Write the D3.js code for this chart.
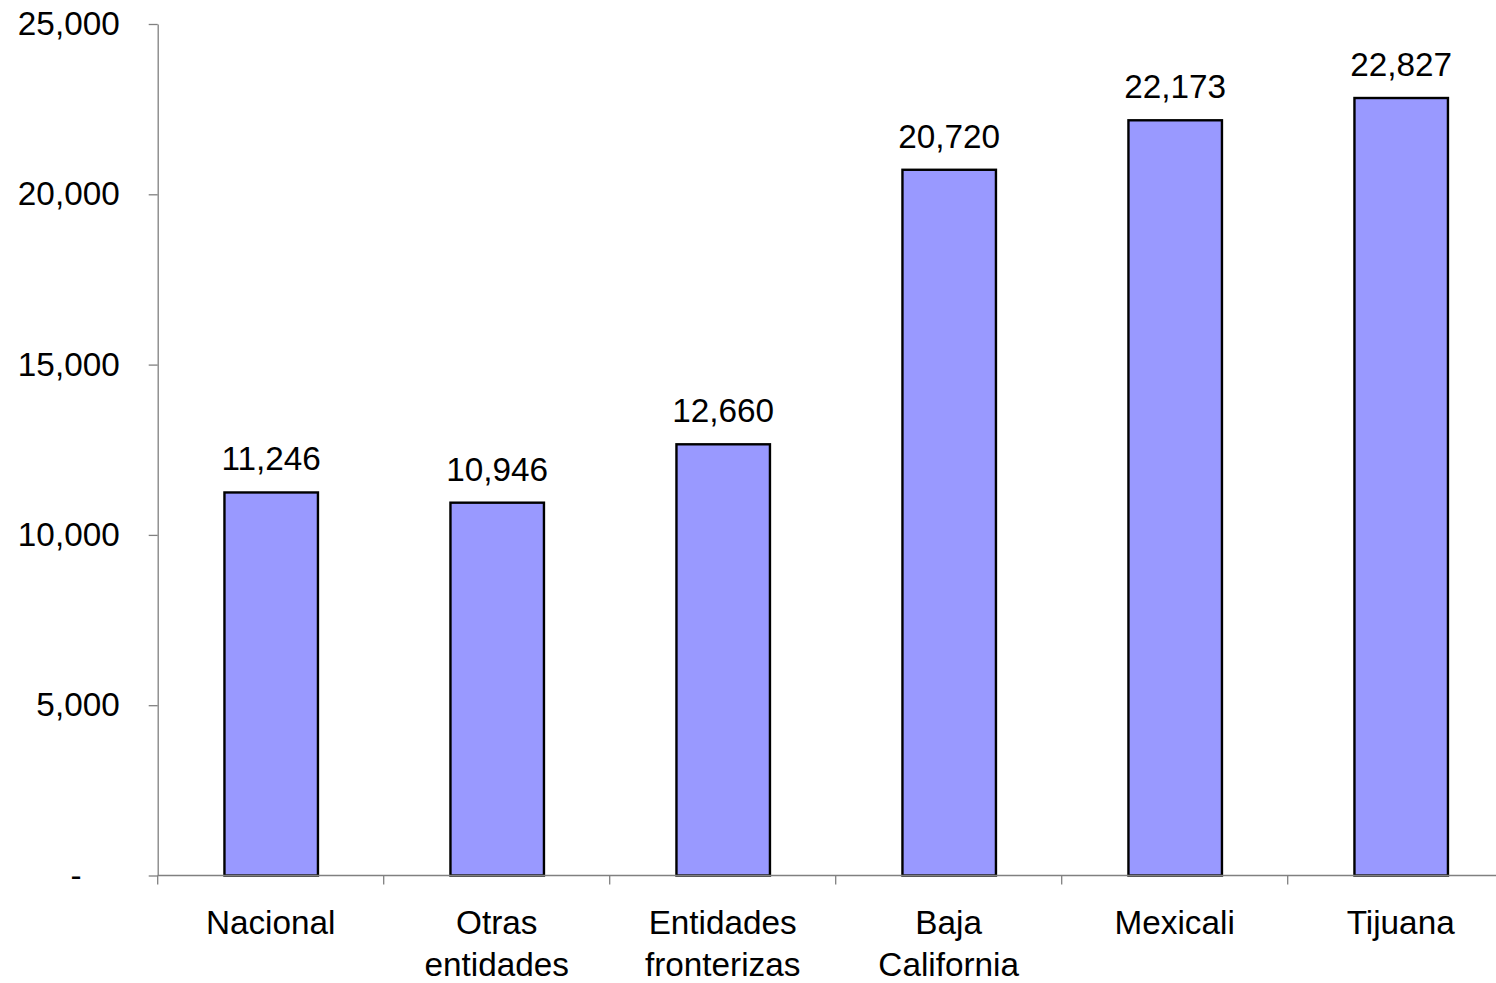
<!DOCTYPE html>
<html><head><meta charset="utf-8">
<script src="https://cdn.jsdelivr.net/npm/d3@7"></script>
<style>html,body{margin:0;padding:0;background:#fff;}svg{display:block;font-family:"Liberation Sans",Arial,sans-serif;}</style>
</head><body>
<svg id="chart" width="1496" height="983"></svg>
<script>
const categories = [["Nacional"],["Otras","entidades"],["Entidades","fronterizas"],["Baja","California"],["Mexicali"],["Tijuana"]];
const values = [11246, 10946, 12660, 20720, 22173, 22827];
const yTicks = [0, 5000, 10000, 15000, 20000, 25000];

const svg = d3.select("#chart");
const x0 = 157.7, x1 = 1513.7, yTop = 24, yBot = 875.5;
const keys = categories.map(c => c.join(" "));
const x = d3.scaleBand().domain(keys).range([x0, x1]).paddingInner(0).paddingOuter(0);
const y = d3.scaleLinear().domain([0, 25000]).range([yBot, yTop]);
const fmt = d3.format(",");
const axisColor = "#808080";

// y axis
const ya = svg.append("g").attr("transform", `translate(${x0},0)`)
  .call(d3.axisLeft(y).tickValues(yTicks).tickSize(9).tickSizeOuter(0).tickFormat(d => d === 0 ? "-" : fmt(d)));
ya.select(".domain").attr("stroke", axisColor).attr("stroke-width", 1.3);
ya.selectAll(".tick line").attr("stroke", axisColor).attr("stroke-width", 1.3);
ya.selectAll(".tick text").attr("font-size", 33.3).attr("fill", "#000")
  .attr("x", d => d === 0 ? -76 : -38)
  .attr("font-family", '"Liberation Sans",Arial,sans-serif');

// bars
const bw = 93.5;
svg.append("g").selectAll("rect").data(values).join("rect")
  .attr("x", (d, i) => x(keys[i]) + x.bandwidth() / 2 - bw / 2 + 0.5)
  .attr("width", bw)
  .attr("y", d => y(d))
  .attr("height", d => yBot - y(d))
  .attr("fill", "#9999FF").attr("stroke", "#000").attr("stroke-width", 2.4);

// x axis
const xa = svg.append("g").attr("transform", `translate(0,${yBot})`);
xa.append("line").attr("x1", x0).attr("x2", x1).attr("stroke", axisColor).attr("stroke-width", 1.3);
xa.selectAll("line.t").data(keys.concat(["end"])).join("line").attr("class", "t")
  .attr("x1", (d, i) => i < keys.length ? x(d) : x1).attr("x2", (d, i) => i < keys.length ? x(d) : x1)
  .attr("y1", 0).attr("y2", 9).attr("stroke", axisColor).attr("stroke-width", 1.3);

// category labels
const cl = svg.append("g").selectAll("text").data(categories).join("text")
  .attr("text-anchor", "middle").attr("font-size", 33.3).attr("fill", "#000");
cl.each(function(c, i) {
  const t = d3.select(this);
  c.forEach((line, j) => {
    t.append("tspan").attr("x", x(keys[i]) + x.bandwidth() / 2).attr("y", 934 + j * 42).text(line);
  });
});

// value labels
svg.append("g").selectAll("text").data(values).join("text")
  .attr("x", (d, i) => x(keys[i]) + x.bandwidth() / 2 + 0.5)
  .attr("y", d => y(d) - 22)
  .attr("text-anchor", "middle").attr("font-size", 33.3).attr("fill", "#000")
  .text(d => fmt(d));
</script>
</body></html>
